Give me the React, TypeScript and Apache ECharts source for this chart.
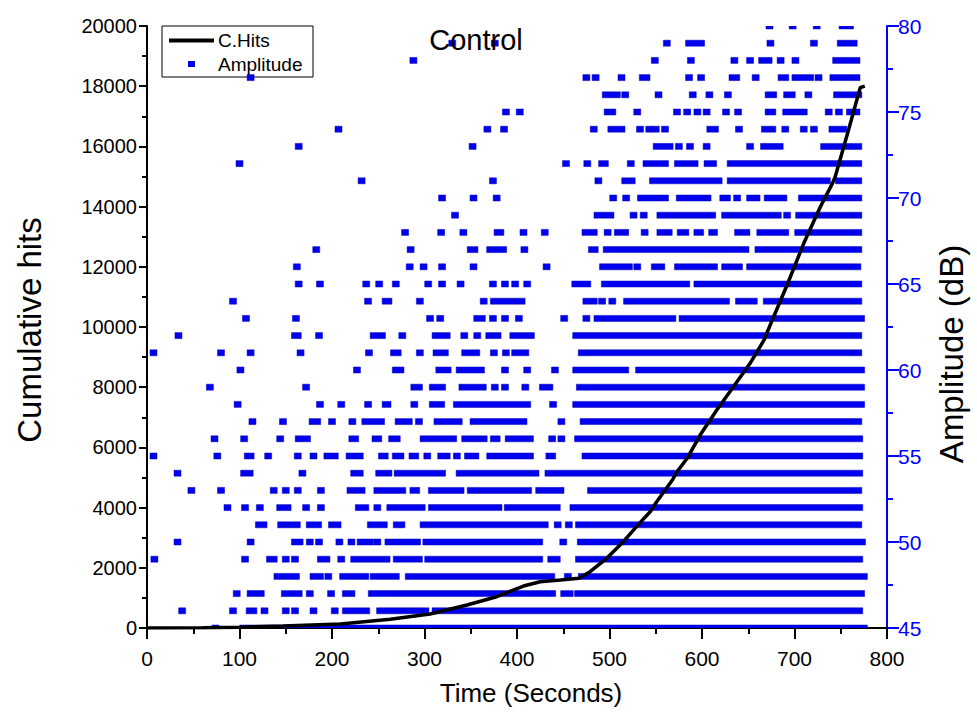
import React, { useEffect, useRef } from "react";
import * as echarts from "echarts";

// A run is [first second, last second] of consecutive hits recorded at one dB level.
// Isolated hits repeat the same second twice.
type Run = [number, number];

const db80: Run[] = [[673, 673], [698, 698], [724, 724], [752, 760]];
const db79: Run[] = [[330, 330], [376, 376], [562, 562], [586, 599], [674, 674], [721, 721], [750, 764]];
const db78: Run[] = [[288, 288], [549, 549], [588, 588], [635, 635], [652, 652], [665, 672], [685, 685], [701, 701], [745, 767]];
const db77: Run[] = [[112, 112], [475, 475], [485, 485], [513, 513], [536, 540], [586, 586], [599, 599], [633, 637], [658, 658], [686, 690], [701, 717], [726, 726], [742, 767]];
const db76: Run[] = [[496, 508], [517, 517], [553, 553], [590, 590], [608, 608], [628, 628], [672, 677], [692, 697], [715, 715], [746, 769]];
const db75: Run[] = [[388, 388], [403, 403], [498, 503], [530, 530], [573, 573], [584, 584], [595, 595], [605, 605], [626, 626], [639, 639], [672, 676], [691, 710], [737, 737], [748, 748], [760, 767]];
const db74: Run[] = [[207, 207], [368, 368], [386, 386], [483, 483], [502, 513], [533, 533], [543, 543], [550, 550], [560, 560], [609, 614], [640, 640], [668, 676], [690, 690], [710, 710], [721, 721], [741, 753]];
const db73: Run[] = [[164, 164], [352, 352], [551, 565], [575, 575], [587, 587], [605, 605], [652, 652], [667, 684], [732, 769]];
const db72: Run[] = [[100, 100], [453, 453], [476, 476], [492, 495], [523, 523], [540, 560], [574, 592], [606, 612], [631, 769]];
const db71: Run[] = [[232, 232], [374, 374], [488, 488], [517, 524], [547, 618], [631, 735], [748, 769]];
const db70: Run[] = [[319, 319], [353, 353], [378, 378], [504, 504], [518, 518], [534, 560], [576, 606], [623, 627], [638, 638], [652, 659], [671, 688], [708, 769]];
const db69: Run[] = [[333, 333], [487, 501], [526, 526], [537, 537], [555, 611], [625, 682], [692, 692], [705, 769]];
const db68: Run[] = [[279, 279], [318, 318], [342, 342], [379, 382], [407, 407], [430, 430], [474, 483], [498, 498], [509, 517], [538, 538], [555, 564], [577, 582], [595, 598], [611, 613], [639, 648], [663, 690], [704, 769]];
const db67: Run[] = [[183, 183], [285, 285], [350, 354], [371, 385], [408, 408], [481, 484], [497, 647], [661, 769]];
const db66: Run[] = [[162, 162], [284, 284], [299, 299], [319, 319], [353, 353], [432, 432], [493, 521], [530, 530], [549, 556], [574, 613], [625, 640], [652, 768]];
const db65: Run[] = [[164, 164], [187, 187], [237, 237], [251, 251], [269, 269], [304, 304], [319, 319], [339, 339], [374, 374], [387, 387], [398, 398], [411, 411], [463, 476], [495, 583], [595, 769]];
const db64: Run[] = [[93, 93], [239, 239], [258, 261], [295, 295], [364, 364], [375, 405], [475, 483], [492, 492], [503, 503], [519, 626], [640, 656], [670, 769]];
const db63: Run[] = [[107, 107], [161, 161], [306, 306], [317, 317], [357, 362], [374, 374], [387, 387], [402, 402], [451, 451], [475, 475], [487, 568], [579, 772]];
const db62: Run[] = [[34, 34], [160, 163], [186, 186], [245, 254], [276, 276], [312, 324], [343, 343], [357, 357], [370, 379], [396, 415], [464, 769]];
const db61: Run[] = [[7, 7], [80, 80], [112, 112], [166, 166], [240, 240], [267, 271], [295, 295], [313, 322], [344, 356], [375, 375], [388, 388], [398, 409], [470, 769]];
const db60: Run[] = [[101, 101], [227, 227], [269, 274], [316, 325], [338, 361], [387, 387], [411, 411], [441, 441], [464, 517], [532, 772]];
const db59: Run[] = [[68, 68], [172, 172], [289, 294], [309, 319], [341, 363], [376, 376], [387, 387], [409, 409], [428, 435], [468, 772]];
const db58: Run[] = [[98, 98], [187, 187], [210, 210], [239, 239], [258, 260], [289, 289], [309, 318], [335, 411], [439, 439], [464, 772]];
const db57: Run[] = [[114, 114], [147, 147], [179, 184], [200, 200], [222, 222], [236, 253], [272, 283], [294, 294], [314, 337], [353, 407], [448, 448], [472, 769]];
const db56: Run[] = [[73, 73], [105, 105], [144, 144], [164, 173], [222, 225], [247, 250], [265, 270], [299, 331], [344, 364], [375, 378], [391, 414], [438, 438], [448, 448], [466, 770]];
const db55: Run[] = [[7, 7], [76, 76], [109, 112], [131, 131], [163, 163], [180, 180], [195, 203], [219, 230], [254, 257], [269, 274], [287, 290], [303, 303], [318, 324], [335, 335], [347, 355], [371, 414], [435, 438], [474, 770]];
const db54: Run[] = [[33, 33], [105, 111], [168, 168], [224, 230], [251, 261], [271, 319], [338, 420], [434, 770]];
const db53: Run[] = [[48, 48], [80, 80], [137, 137], [150, 150], [163, 163], [188, 188], [220, 232], [249, 276], [288, 291], [308, 339], [350, 412], [424, 447], [480, 769]];
const db52: Run[] = [[87, 87], [106, 106], [122, 122], [144, 152], [172, 172], [188, 188], [229, 236], [249, 249], [263, 297], [308, 380], [390, 443], [461, 770]];
const db51: Run[] = [[121, 126], [145, 162], [176, 185], [200, 206], [242, 256], [270, 275], [299, 430], [444, 444], [456, 456], [467, 769]];
const db50: Run[] = [[33, 33], [112, 112], [160, 165], [176, 176], [186, 186], [208, 208], [221, 221], [231, 241], [249, 249], [261, 292], [302, 424], [450, 450], [469, 773]];
const db49: Run[] = [[8, 8], [106, 106], [133, 137], [150, 150], [160, 160], [188, 194], [210, 210], [224, 259], [270, 294], [304, 424], [437, 443], [467, 770]];
const db48: Run[] = [[141, 161], [180, 187], [196, 196], [212, 236], [245, 269], [283, 437], [455, 455], [470, 775]];
const db47: Run[] = [[97, 97], [112, 123], [149, 164], [176, 176], [199, 199], [215, 221], [243, 438], [451, 457], [466, 772]];
const db46: Run[] = [[38, 38], [93, 93], [111, 115], [127, 127], [150, 150], [160, 160], [180, 180], [203, 203], [215, 237], [252, 301], [312, 770]];
const db45: Run[] = [[74, 74], [104, 775]];

const amplitudeLevels: [number, Run[]][] = [
  [80, db80], [79, db79], [78, db78], [77, db77], [76, db76], [75, db75], [74, db74],
  [73, db73], [72, db72], [71, db71], [70, db70], [69, db69], [68, db68], [67, db67],
  [66, db66], [65, db65], [64, db64], [63, db63], [62, db62], [61, db61], [60, db60],
  [59, db59], [58, db58], [57, db57], [56, db56], [55, db55], [54, db54], [53, db53],
  [52, db52], [51, db51], [50, db50], [49, db49], [48, db48], [47, db47], [46, db46],
  [45, db45],
];

// Cumulative hit count against time
const hitTimes = [0, 60, 100, 147, 209, 263, 306, 346, 378, 407, 425, 447, 467, 479, 497, 515, 533, 544, 551, 568, 573, 584, 598, 616, 634, 652, 667, 676, 692, 710, 728, 741, 744, 758, 771, 776];
const cumulativeHits = [0, 10, 25, 66, 133, 290, 465, 764, 1040, 1395, 1538, 1595, 1651, 1870, 2315, 2867, 3500, 3864, 4196, 4917, 5192, 5638, 6411, 7242, 8016, 8793, 9567, 10232, 11395, 12780, 13996, 14773, 14993, 16500, 17950, 18000];

const FONT = '"Liberation Sans", Arial, Helvetica, sans-serif';
const BLUE = "#0000ff";
const MARK = "#0000ee";
const MARK_W = 7;
const MARK_H = 6;

export default function App() {
  const ref = useRef<HTMLDivElement>(null);

  useEffect(() => {
    if (!ref.current) return;
    const chart = echarts.init(ref.current, null, { renderer: "svg" });

    const amplitudeData: number[][] = [];
    amplitudeLevels.forEach(([level, runs]) => {
      runs.forEach(([s, e]) => amplitudeData.push([s, e, level]));
    });
    const hitsData = hitTimes.map((t, i) => [t, cumulativeHits[i]]);

    chart.setOption({
      animation: false,
      backgroundColor: "#ffffff",
      textStyle: { fontFamily: FONT },
      grid: { left: 147, right: 90, top: 26, bottom: 87, containLabel: false },
      xAxis: {
        type: "value",
        min: 0,
        max: 800,
        interval: 100,
        axisLine: { show: true, onZero: false, lineStyle: { color: "#000", width: 2 } },
        axisTick: { show: true, length: 11, lineStyle: { color: "#000", width: 2 } },
        minorTick: { show: true, splitNumber: 2, length: 6, lineStyle: { color: "#000", width: 2 } },
        axisLabel: { fontSize: 21, color: "#000", margin: 20, fontFamily: FONT },
        splitLine: { show: false },
        minorSplitLine: { show: false },
      },
      yAxis: [
        {
          type: "value",
          min: 0,
          max: 20000,
          interval: 2000,
          position: "left",
          axisLine: { show: true, onZero: false, lineStyle: { color: "#000", width: 2 } },
          axisTick: { show: true, length: 8, lineStyle: { color: "#000", width: 2 } },
          minorTick: { show: true, splitNumber: 2, length: 5, lineStyle: { color: "#000", width: 2 } },
          axisLabel: {
            fontSize: 20,
            color: "#000",
            margin: 10,
            fontFamily: FONT,
            formatter: (v: number) => String(v),
          },
          splitLine: { show: false },
        },
        {
          type: "value",
          min: 45,
          max: 80,
          interval: 5,
          position: "right",
          axisLine: { show: true, onZero: false, lineStyle: { color: BLUE, width: 2 } },
          axisTick: { show: true, length: 12, lineStyle: { color: BLUE, width: 2 } },
          minorTick: { show: true, splitNumber: 2, length: 6, lineStyle: { color: BLUE, width: 2 } },
          axisLabel: { fontSize: 21, color: BLUE, margin: 11, fontFamily: FONT },
          splitLine: { show: false },
        },
      ],
      series: [
        {
          type: "custom",
          name: "Amplitude",
          yAxisIndex: 1,
          clip: true,
          data: amplitudeData,
          encode: { x: [0, 1], y: 2 },
          z: 2,
          renderItem: (_params: any, api: any) => {
            const a = api.coord([api.value(0), api.value(2)]);
            const b = api.coord([api.value(1), api.value(2)]);
            return {
              type: "rect",
              shape: {
                x: a[0] - MARK_W / 2,
                y: a[1] - MARK_H / 2,
                width: b[0] - a[0] + MARK_W,
                height: MARK_H,
              },
              style: { fill: MARK, stroke: "#0000b8", lineWidth: 0.5 },
            };
          },
        },
        {
          type: "line",
          name: "C.Hits",
          yAxisIndex: 0,
          data: hitsData,
          symbol: "none",
          clip: true,
          z: 5,
          lineStyle: { color: "#000", width: 3.5 },
        },
      ],
      graphic: [
        {
          type: "group",
          z: 100,
          children: [
            {
              type: "rect",
              shape: { x: 162, y: 26, width: 151, height: 51 },
              style: { fill: "#fff", stroke: "#000", lineWidth: 1 },
            },
            {
              type: "line",
              shape: { x1: 169, y1: 40.5, x2: 214, y2: 40.5 },
              style: { stroke: "#000", lineWidth: 4 },
            },
            {
              type: "text",
              x: 218,
              y: 40.5,
              style: { text: "C.Hits", font: `19px ${FONT}`, fill: "#000", verticalAlign: "middle" },
            },
            {
              type: "rect",
              shape: { x: 188, y: 61, width: 7, height: 6 },
              style: { fill: MARK },
            },
            {
              type: "text",
              x: 218,
              y: 64.5,
              style: { text: "Amplitude", font: `19px ${FONT}`, fill: "#000", verticalAlign: "middle" },
            },
          ],
        },
        {
          type: "text",
          z: 100,
          x: 476,
          y: 40,
          style: { text: "Control", font: `29px ${FONT}`, fill: "#000", align: "center", verticalAlign: "middle" },
        },
        // axis titles
        {
          type: "text",
          z: 100,
          x: 531,
          y: 693,
          style: { text: "Time (Seconds)", font: `26px ${FONT}`, fill: "#000", align: "center", verticalAlign: "middle" },
        },
        {
          type: "text",
          z: 100,
          x: 29,
          y: 330,
          rotation: Math.PI / 2,
          style: { text: "Cumulative hits", font: `33px ${FONT}`, fill: "#000", align: "center", verticalAlign: "middle" },
        },
        {
          type: "text",
          z: 100,
          x: 951,
          y: 354,
          rotation: Math.PI / 2,
          style: { text: "Amplitude (dB)", font: `33px ${FONT}`, fill: "#000", align: "center", verticalAlign: "middle" },
        },
      ],
    });

    return () => chart.dispose();
  }, []);

  return (
    <div
      ref={ref}
      style={{ position: "absolute", left: 0, top: 0, width: 977, height: 715, background: "#fff" }}
    />
  );
}
